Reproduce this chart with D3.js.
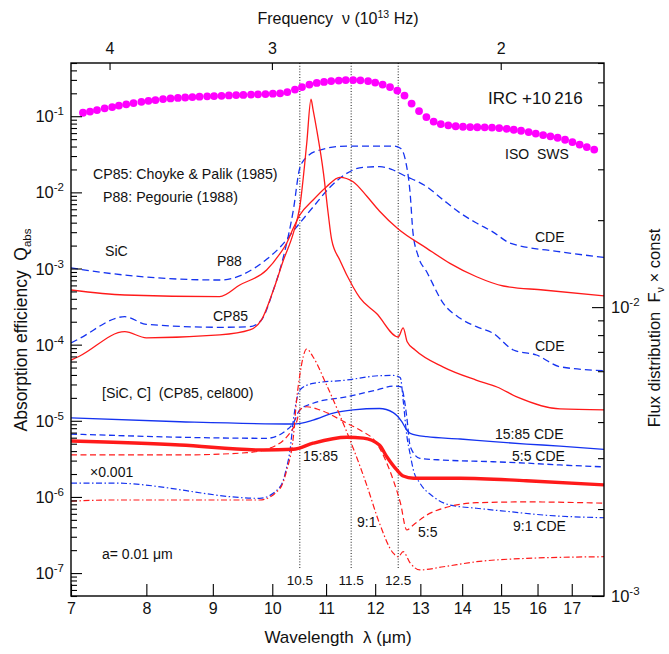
<!DOCTYPE html>
<html><head><meta charset="utf-8">
<script src="https://cdn.jsdelivr.net/npm/d3@7"></script>
<style>
body{margin:0;background:#fff}
text{font-family:"Liberation Sans",Arial,Helvetica,sans-serif;fill:#111}
</style>
</head><body>
<svg id="c" width="669" height="654"></svg>
<script>
// ---------- data ----------
const xTickLabels = [7,8,9,10,11,12,13,14,15,16,17];
const freqTicks = [4,3,2];            // 10^13 Hz
const leftExps = [-1,-2,-3,-4,-5,-6,-7];
const rightExps = [-2,-3];
const markWaves = [10.5,11.5,12.5];

// ISO SWS spectrum of IRC +10 216 (right axis)
const isoWave = [7.15,7.24,7.33,7.43,7.53,7.62,7.72,7.82,7.93,8.03,8.13,8.24,8.35,8.46,8.57,8.68,8.79,8.91,9.02,9.14,9.26,9.38,9.50,9.63,9.75,9.88,10.01,10.14,10.27,10.41,10.54,10.68,10.82,10.96,11.10,11.25,11.39,11.54,11.69,11.85,12.00,12.16,12.32,12.48,12.64,12.80,12.97,13.14,13.31,13.48,13.66,13.84,14.02,14.20,14.38,14.57,14.76,14.95,15.15,15.34,15.54,15.75,15.95,16.16,16.37,16.58,16.80,17.02,17.24,17.46,17.69];
const isoFlux = [0.04708,0.04753,0.04810,0.04876,0.04927,0.04986,0.05034,0.05086,0.05135,0.05176,0.05209,0.05251,0.05280,0.05301,0.05318,0.05335,0.05352,0.05365,0.05378,0.05390,0.05404,0.05421,0.05429,0.05442,0.05455,0.05464,0.05481,0.05495,0.05552,0.05664,0.05777,0.05894,0.05974,0.06022,0.06061,0.06085,0.06109,0.06109,0.06099,0.06061,0.05989,0.05894,0.05777,0.05619,0.05399,0.05066,0.04772,0.04549,0.04389,0.04302,0.04258,0.04228,0.04211,0.04201,0.04194,0.04191,0.04184,0.04167,0.04141,0.04111,0.04079,0.04037,0.03989,0.03942,0.03901,0.03857,0.03797,0.03728,0.03654,0.03582,0.03511];

// SiC, P88, CDE (blue dashed)
const p88Cde = [[7.00,1.02e-3],[7.11,9.77e-4],[9.11,7.06e-4],[9.90,1.32e-3],[10.14,1.91e-3],[10.44,3.51e-3],[10.75,6.42e-3],[11.08,1.175e-2],[11.41,1.778e-2],[11.74,2.133e-2],[12.10,2.173e-2],[12.39,1.967e-2],[12.61,1.69e-2],[13.15,1.186e-2],[13.54,7.94e-3],[13.95,5.36e-3],[14.36,3.96e-3],[14.79,3.01e-3],[15.24,2.16e-3],[16.65,1.66e-3],[18.00,1.40e-3]];
// SiC, CP85, CDE (blue dashed)
const cp85Cde = [[7.00,1.05e-4],[7.11,1.21e-4],[7.70,2.33e-4],[8.00,1.85e-4],[9.11,1.69e-4],[9.61,1.72e-4],[9.81,2.11e-4],[10.02,5.22e-4],[10.20,1.43e-3],[10.38,5.86e-3],[10.50,2.09e-2],[10.63,2.91e-2],[10.88,3.60e-2],[11.41,4.06e-2],[12.39,4.06e-2],[12.55,3.79e-2],[12.66,2.66e-2],[12.77,9.23e-3],[12.83,3.01e-3],[12.95,1.46e-3],[13.15,9.0e-4],[13.54,3.49e-4],[13.95,2.22e-4],[14.36,1.72e-4],[14.79,1.41e-4],[15.33,8.51e-5],[15.97,7.31e-5],[16.65,5.13e-5],[18.00,4.55e-5]];
// SiC, P88, sphere (red solid)
const p88Sph = [[7.00,5.22e-4],[7.70,4.49e-4],[9.11,4.27e-4],[9.44,6.07e-4],[9.90,9.55e-4],[10.14,1.58e-3],[10.26,2.16e-3],[10.38,3.40e-3],[10.50,5.04e-3],[10.75,7.94e-3],[11.01,1.186e-2],[11.27,1.577e-2],[11.54,1.38e-2],[11.82,8.95e-3],[12.09,5.69e-3],[12.50,3.30e-3],[13.15,1.84e-3],[13.70,1.17e-3],[14.36,7.80e-4],[15.06,5.89e-4],[16.16,5.22e-4],[18.00,4.36e-4]];
// SiC, CP85, sphere (red solid)
const cp85Sph = [[7.00,6.28e-5],[7.11,7.10e-5],[7.70,1.48e-4],[8.00,1.23e-4],[9.11,1.34e-4],[9.61,1.56e-4],[9.81,2.11e-4],[10.02,5.22e-4],[10.20,1.29e-3],[10.38,2.92e-3],[10.50,6.48e-3],[10.63,4.45e-2],[10.71,1.67e-1],[10.75,1.21e-1],[10.82,6.59e-2],[10.95,1.78e-2],[11.04,5.36e-3],[11.11,2.37e-3],[11.27,1.29e-3],[11.54,5.71e-4],[11.68,4.10e-4],[12.03,2.56e-4],[12.50,1.26e-4],[12.61,1.66e-4],[12.70,1.09e-4],[12.88,8.51e-5],[13.54,5.08e-5],[14.35,3.43e-5],[14.89,2.78e-5],[15.44,2.05e-5],[16.65,1.43e-5],[18.00,1.39e-5]];

// [SiC, C] x0.001
const mix1585Cde = [[7.00,1.09e-5],[8.49,9.72e-6],[10.38,9.08e-6],[10.75,1.02e-5],[11.14,1.26e-5],[11.54,1.39e-5],[12.09,1.45e-5],[12.39,1.28e-5],[12.58,9.72e-6],[12.69,7.57e-6],[12.77,6.85e-6],[13.15,6.18e-6],[13.95,5.77e-6],[14.79,5.31e-6],[15.69,4.95e-6],[16.65,4.66e-6],[18.00,4.22e-6]];
const mix55Cde = [[7.00,6.70e-6],[9.90,5.89e-6],[10.26,7.57e-6],[10.38,9.35e-6],[10.50,1.39e-5],[10.75,1.70e-5],[11.41,2.07e-5],[12.03,2.54e-5],[12.39,2.86e-5],[12.55,2.81e-5],[12.61,2.31e-5],[12.69,1.13e-5],[12.77,4.57e-6],[12.99,3.21e-6],[13.54,3.05e-6],[14.79,2.90e-6],[15.69,2.78e-6],[16.65,2.63e-6],[18.00,2.48e-6]];
const mix91Cde = [[7.00,1.52e-6],[7.54,1.52e-6],[9.78,9.59e-7],[10.14,1.36e-6],[10.26,2.48e-6],[10.32,4.13e-6],[10.38,1.02e-5],[10.44,1.87e-5],[10.50,2.54e-5],[10.75,3.10e-5],[11.41,3.43e-5],[12.09,3.91e-5],[12.39,3.94e-5],[12.50,3.81e-5],[12.55,3.65e-5],[12.61,1.87e-5],[12.69,6.50e-6],[12.77,3.56e-6],[12.84,2.26e-6],[12.99,1.52e-6],[13.30,1.01e-6],[13.70,7.83e-7],[14.36,7.10e-7],[15.24,6.40e-7],[16.16,5.79e-7],[18.00,5.33e-7]];
const mix1585Sph = [[7.00,5.42e-6],[8.49,4.81e-6],[9.84,4.13e-6],[10.38,4.22e-6],[10.75,5.08e-6],[11.41,6.07e-6],[11.75,5.93e-6],[12.09,4.81e-6],[12.25,3.37e-6],[12.47,2.26e-6],[12.61,1.88e-6],[12.84,1.76e-6],[13.95,1.76e-6],[15.69,1.63e-6],[18.00,1.44e-6]];
const mix55Sph = [[7.00,3.56e-6],[8.49,3.56e-6],[9.56,3.81e-6],[10.02,4.57e-6],[10.26,6.14e-6],[10.38,8.06e-6],[10.44,9.64e-6],[10.50,1.39e-5],[10.63,1.53e-5],[10.88,1.39e-5],[11.41,9.30e-6],[11.68,7.57e-6],[12.03,5.08e-6],[12.39,1.67e-6],[12.55,8.28e-7],[12.69,3.68e-7],[12.84,4.28e-7],[13.15,5.79e-7],[13.62,7.31e-7],[14.36,8.40e-7],[15.69,8.60e-7],[18.00,8.28e-7]];
const mix91Sph = [[7.00,8.80e-7],[7.54,9.12e-7],[9.78,9.12e-7],[10.14,1.30e-6],[10.26,2.26e-6],[10.38,6.14e-6],[10.44,1.87e-5],[10.50,3.99e-5],[10.63,8.77e-5],[10.75,6.89e-5],[11.01,2.95e-5],[11.27,1.19e-5],[11.54,4.40e-6],[11.82,1.44e-6],[12.09,4.54e-7],[12.39,1.83e-7],[12.50,1.63e-7],[12.61,1.91e-7],[12.77,1.35e-7],[12.99,1.10e-7],[13.54,1.21e-7],[14.36,1.41e-7],[15.69,1.56e-7],[18.00,1.64e-7]];

// ---------- drawing ----------
const L=71,R=604,T=63,B=596;
const svg = d3.select("#c");
const x = d3.scaleLog().domain([7,18]).range([L,R]);
const yL = d3.scaleLog().domain([5e-8,0.5]).range([B,T]);
const yR = d3.scaleLog().domain([1e-3,0.07]).range([B,T]);
const RED="#ff1a1a", BLUE="#1533f0";
const FONT='"Liberation Sans",Arial,Helvetica,sans-serif';

svg.append("defs").append("clipPath").attr("id","clip")
  .append("rect").attr("x",L).attr("y",T).attr("width",R-L).attr("height",B-T);

// dotted guide lines
svg.append("g").selectAll("line").data(markWaves).enter().append("line")
  .attr("x1",d=>x(d)).attr("x2",d=>x(d)).attr("y1",T).attr("y2",568)
  .attr("stroke","#000").attr("stroke-width",0.9).attr("stroke-dasharray","1,1.8");
svg.append("g").selectAll("text").data(markWaves).enter().append("text")
  .attr("x",d=>x(d)).attr("y",585).attr("text-anchor","middle")
  .attr("font-size",13.5).text(d=>d.toFixed(1));

// curves
const line = d3.line().x(d=>x(d[0])).y(d=>yL(d[1])).curve(d3.curveMonotoneX);
const series = [
  {d:p88Cde, c:BLUE, w:1.3, dash:"7,4"},
  {d:cp85Cde, c:BLUE, w:1.3, dash:"7,4"},
  {d:p88Sph, c:RED, w:1.3, dash:null},
  {d:cp85Sph, c:RED, w:1.3, dash:null},
  {d:mix1585Cde, c:BLUE, w:1.3, dash:null},
  {d:mix55Cde, c:BLUE, w:1.3, dash:"6,3.5"},
  {d:mix91Cde, c:BLUE, w:1.2, dash:"6,2.5,1.5,2.5"},
  {d:mix55Sph, c:RED, w:1.2, dash:"6,3.5"},
  {d:mix91Sph, c:RED, w:1.2, dash:"6,2.5,1.5,2.5"},
  {d:mix1585Sph, c:RED, w:3.4, dash:null}
];
const gc = svg.append("g").attr("clip-path","url(#clip)");
gc.selectAll("path").data(series).enter().append("path")
  .attr("d",s=>line(s.d)).attr("fill","none")
  .attr("stroke",s=>s.c).attr("stroke-width",s=>s.w)
  .attr("stroke-dasharray",s=>s.dash).attr("stroke-linejoin","round");

// ISO SWS dots
svg.append("g").selectAll("circle").data(isoWave.map((w,i)=>[w,isoFlux[i]])).enter()
  .append("circle").attr("cx",d=>x(d[0])).attr("cy",d=>yR(d[1])).attr("r",3.9)
  .attr("fill","#ff00ff");

// ---------- axes ----------
function styleAxis(g){ g.select(".domain").remove();
  g.selectAll("line").attr("stroke","#000").attr("stroke-width",1.1);
  g.selectAll("text").attr("font-family",FONT).attr("font-size",16).attr("fill","#111"); }

svg.append("g").attr("transform",`translate(0,${B})`)
  .call(d3.axisBottom(x).tickValues(xTickLabels).tickSize(-12).tickPadding(7).tickFormat(d3.format("d")))
  .call(styleAxis);
svg.append("g").attr("transform",`translate(0,${T})`)
  .call(d3.axisTop(x).tickValues(freqTicks.map(f=>29.9792458/f)).tickSize(-7).tickPadding(9)
     .tickFormat((d,i)=>freqTicks[i]))
  .call(styleAxis);

const minorL=[], minorR=[];
for(let k=-8;k<=0;k++) for(let m=2;m<=9;m++){ const v=m*Math.pow(10,k);
  if(v>=5e-8 && v<=0.5) minorL.push(v); if(v>=1e-3 && v<=0.07) minorR.push(v); }
svg.append("g").attr("transform",`translate(${L},0)`)
  .call(d3.axisLeft(yL).tickValues(leftExps.map(e=>Math.pow(10,e))).tickSize(-11).tickFormat(""))
  .call(styleAxis);
svg.append("g").attr("transform",`translate(${L},0)`)
  .call(d3.axisLeft(yL).tickValues(minorL).tickSize(-6).tickFormat(""))
  .call(styleAxis);
svg.append("g").attr("transform",`translate(${R},0)`)
  .call(d3.axisRight(yR).tickValues(rightExps.map(e=>Math.pow(10,e))).tickSize(-12).tickFormat(""))
  .call(styleAxis);
svg.append("g").attr("transform",`translate(${R},0)`)
  .call(d3.axisRight(yR).tickValues(minorR).tickSize(-6).tickFormat(""))
  .call(styleAxis);

// frame
svg.append("rect").attr("x",L).attr("y",T).attr("width",R-L).attr("height",B-T)
  .attr("fill","none").attr("stroke","#000").attr("stroke-width",1.4);

// power-of-ten labels
function pow10(g, xx, yy, e, anchor){
  const t=g.append("text").attr("x",xx).attr("y",yy).attr("text-anchor",anchor).attr("font-size",16.5);
  t.append("tspan").text("10");
  t.append("tspan").attr("font-size",11.5).attr("dy",-7).text(e);
}
const gl = svg.append("g");
leftExps.forEach(e=>pow10(gl, 64, yL(Math.pow(10,e))+6, e, "end"));
rightExps.forEach(e=>pow10(gl, 611, yR(Math.pow(10,e))+6, e, "start"));

// axis titles
const t1 = svg.append("text").attr("x",338).attr("y",24).attr("text-anchor","middle").attr("font-size",16)
  .style("white-space","pre");
t1.append("tspan").text("Frequency  \u03bd (10");
t1.append("tspan").attr("font-size",10.5).attr("dy",-6).text("13");
t1.append("tspan").attr("dy",6).text(" Hz)");

svg.append("text").attr("x",338).attr("y",643).attr("text-anchor","middle").attr("font-size",17)
  .style("white-space","pre").text("Wavelength  \u03bb (\u03bcm)");

const t2 = svg.append("text").attr("transform","translate(27,330) rotate(-90)")
  .attr("text-anchor","middle").attr("font-size",17.5).style("white-space","pre");
t2.append("tspan").text("Absorption efficiency  Q");
t2.append("tspan").attr("font-size",11.5).attr("dy",4).text("abs");

const t3 = svg.append("text").attr("transform","translate(660,328) rotate(-90)")
  .attr("text-anchor","middle").attr("font-size",16.5).style("white-space","pre");
t3.append("tspan").text("Flux distribution  F");
t3.append("tspan").attr("font-size",11).attr("dy",4).text("\u03bd");
t3.append("tspan").attr("dy",-4).text(" \u00d7 const");

// annotations
const notes = [
  ["IRC +10\u2009216",488,104,17],
  ["ISO  SWS",505,159,14],
  ["CP85: Choyke & Palik (1985)",93,179,14.2],
  ["P88: Pegourie (1988)",103,202,14.2],
  ["SiC",105,256,14.2],
  ["P88",217,266,14],
  ["CP85",213,321,14],
  ["[SiC, C]  (CP85, cel800)",102,398,14.2],
  ["CDE",535,242,14],
  ["CDE",535,351,14],
  ["15:85 CDE",495,439,14],
  ["5:5 CDE",512,461,14],
  ["9:1 CDE",513,531,14],
  ["5:5",418,537,14],
  ["9:1",357,527,14],
  ["15:85",303,461,14],
  ["\u00d70.001",90,477,14],
  ["a= 0.01 \u03bcm",102,559,14]
];
svg.append("g").selectAll("text").data(notes).enter().append("text")
  .attr("x",d=>d[1]).attr("y",d=>d[2]).attr("font-size",d=>d[3])
  .style("white-space","pre").text(d=>d[0]);
</script>
</body></html>
